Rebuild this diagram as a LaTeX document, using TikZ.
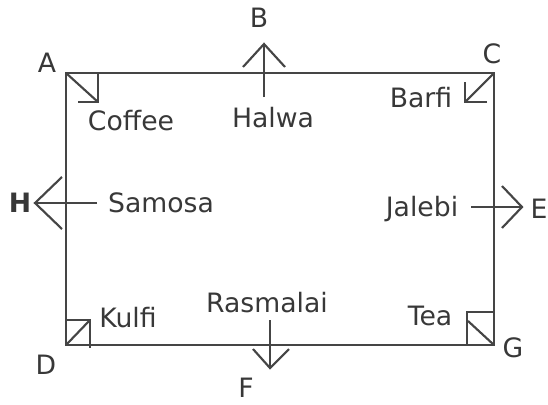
\documentclass[tikz,border=0pt]{standalone}
\usepackage{fontspec}
\setmainfont{DejaVu Sans}
\definecolor{linec}{HTML}{454545}
\definecolor{txtc}{HTML}{383838}
\begin{document}
\begin{tikzpicture}[x=0.75pt,y=-0.75pt,
  ln/.style={draw=linec,line width=1.6pt,line cap=butt,line join=miter},
  lbl/.style={text=txtc,font=\fontsize{20}{24}\selectfont,inner sep=0pt,text height=14.6pt,text depth=0pt}]
\useasboundingbox (0,0) rectangle (548,404);
% corners of the frame
\coordinate (cA) at (66,73);
\coordinate (cC) at (494,73);
\coordinate (cG) at (494,345);
\coordinate (cD) at (66,345);
\draw[ln] (cA) rectangle (cG);
% labels
\node[lbl] (A) at (47,63) {A};
\node[lbl] (B) at (259,18) {B};
\node[lbl] (C) at (492,54) {C};
\node[lbl,font=\fontsize{20}{24}\selectfont\bfseries] (H) at (20,203) {H};
\node[lbl] (E) at (539,209) {E};
\node[lbl] (D) at (46,365) {D};
\node[lbl] (F) at (246,388) {F};
\node[lbl] (G) at (513,348) {G};
\node[lbl] (coffee) at (131,121) {Coffee};
\node[lbl] (halwa) at (273,118) {Halwa};
\node[lbl] (barfi) at (421,98) {Barfi};
\node[lbl] (samosa) at (161,203) {Samosa};
\node[lbl] (jalebi) at (422,207) {Jalebi};
\node[lbl] (kulfi) at (128,318) {Kulfi};
\node[lbl] (rasmalai) at (267,303) {Rasmalai};
\node[lbl] (tea) at (430,316) {Tea};
% arrow ends
\coordinate (bS) at (264,97);  \coordinate (bT) at (264,44);
\coordinate (fS) at (270,320); \coordinate (fT) at (270,368);
\coordinate (hS) at (97,203);  \coordinate (hT) at (35,203);
\coordinate (eS) at (471,207); \coordinate (eT) at (522,207);
\coordinate (aT) at (98,102);
\coordinate (cT) at (465,102);
\coordinate (dT) at (90,320);
\coordinate (gS) at (468,321);
% Halwa -> B
\draw[ln] (bS) -- (bT);
\draw[ln] (bT) ++(-21,23) -- (bT) -- ++(21,23);
% Rasmalai -> F
\draw[ln] (fS) -- (fT);
\draw[ln] (fT) ++(-17,-19) -- (fT) -- ++(19,-19);
% Samosa -> H
\draw[ln] (hS) -- (hT);
\draw[ln] (hT) ++(27,-26) -- (hT) -- ++(27,26);
% Jalebi -> E
\draw[ln] (eS) -- (eT);
\draw[ln] (eT) ++(-20,-21) -- (eT) -- ++(-20,21);
% Coffee corner (A)
\draw[ln] (cA) -- (aT);
\draw[ln] (aT) ++(-20,0) -- (aT) -- (aT |- cA);
% Barfi corner (C)
\draw[ln] (cC) -- (cT);
\draw[ln] (cT) ++(22,0) -- (cT) -- ++(0,-20);
% Kulfi corner (D)
\draw[ln] (cD) -- (dT);
\draw[ln] (dT -| cD) -- (dT) -- ++(0,28);
% Tea corner (G)
\coordinate (gTL) at (467,312);
\draw[ln] (gTL -| cG) -- (gTL) -- (gTL |- cG);
\draw[ln] (gS) -- (cG);
\end{tikzpicture}
\end{document}
